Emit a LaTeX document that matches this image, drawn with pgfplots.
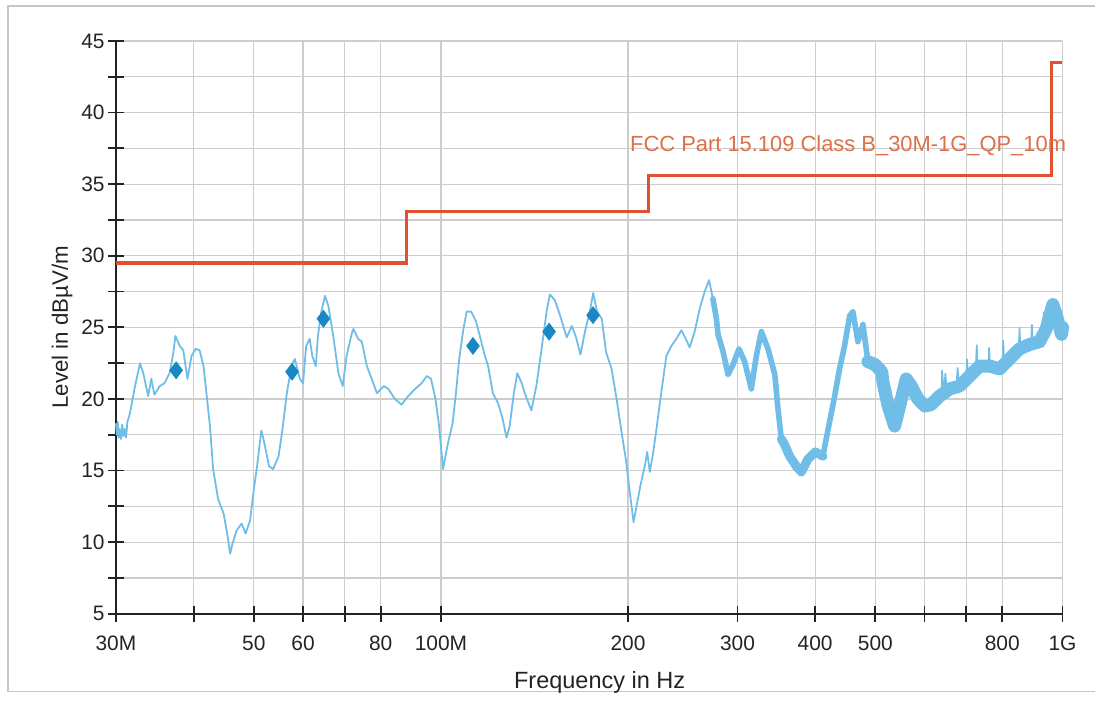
\documentclass[border=0pt]{standalone}
\usepackage{fontspec}
\setmainfont{Liberation Sans}
\usepackage{pgfplots}
\pgfplotsset{compat=1.18}
\definecolor{trace}{RGB}{112,190,232}
\definecolor{markc}{RGB}{25,135,195}
\definecolor{limit}{RGB}{222,82,50}
\definecolor{limtext}{RGB}{222,112,72}
\definecolor{gridc}{RGB}{205,205,205}
\definecolor{axc}{RGB}{35,35,35}
\begin{document}
\begin{tikzpicture}
\begin{axis}[
  scale only axis, width=473.5bp, height=286.5bp,
  xmode=log, log basis x=10,
  xmin=30, xmax=1000, ymin=5, ymax=45,
  clip=false,
  axis x line=bottom, axis y line=left,
  axis line style={-, line width=1bp, color=axc},
  xtick={30,40,50,60,70,80,100,200,300,400,500,600,700,800,1000},
  xticklabels={30M,,50,60,,80,100M,200,300,400,500,,,800,1G},
  minor xtick={},
  ytick={5,10,15,20,25,30,35,40,45},
  yticklabels={5,10,15,20,25,30,35,40,45},
  minor ytick={7.5,12.5,17.5,22.5,27.5,32.5,37.5,42.5},
  grid=both,
  major grid style={gridc, line width=0.6bp},
  minor grid style={gridc, line width=0.6bp},
  tick align=center, major tick length=8bp, minor tick length=8bp,
  tick style={axc, line width=0.9bp},
  ticklabel style={font=\fontsize{10.5}{12}\selectfont, text=axc},
  xticklabel style={yshift=-3.5bp},
  yticklabel style={xshift=1.8bp},
  xlabel={Frequency in Hz},
  xlabel style={at={(rel axis cs:0.511,-0.120)}, anchor=center, font=\fontsize{11.8}{13}\selectfont, text=axc},
  ylabel={Level in dBµV/m},
  ylabel style={at={(rel axis cs:-0.057,0.5)}, anchor=center, font=\fontsize{11.2}{13}\selectfont, text=axc},
]
% page frame and bounding box
\path (rel axis cs:-0.1225,-0.1414) rectangle (rel axis cs:1.0348,1.0716);
\draw[gray!45, line width=0.6bp] (rel axis cs:1.0348,1.0611) -- (rel axis cs:-0.1140,1.0611) -- (rel axis cs:-0.1140,-0.1361) -- (rel axis cs:1.0348,-0.1361);

% limit line
\addplot[limit, line width=1.6bp, line join=miter] coordinates {
(30,29.5) (88,29.5) (88,33.1) (216,33.1) (216,35.6) (960,35.6) (960,43.5) (1000,43.5)};

% measured trace, 30-280 MHz (thin)
\addplot[trace, line width=0.9bp, line join=round] coordinates {
(30.0,18.3) (30.1,17.5) (30.2,18.4) (30.3,17.3) (30.4,17.9) (30.55,17.2) (30.7,18.2) (30.85,17.4) (31.0,17.9) (31.15,17.3) (31.3,18.4) (31.6,19.0)
(32.2,20.9) (32.8,22.5) (33.2,21.8) (33.8,20.2) (34.2,21.4) (34.6,20.3) (35.3,20.9)
(35.9,21.1) (36.6,21.8) (37.1,23.2) (37.4,24.4) (38.0,23.7) (38.5,23.4) (39.1,21.4)
(39.7,23.0) (40.3,23.5) (40.9,23.4) (41.5,22.3) (42.0,20.2) (42.5,18.1) (43.0,15.1)
(43.8,13.0) (44.7,12.0) (45.3,10.6) (45.8,9.2) (46.2,9.9) (46.9,10.8) (47.8,11.3)
(48.5,10.6) (49.3,11.5) (50.0,13.7) (50.6,15.3) (51.4,17.8) (52.0,16.9) (52.9,15.3)
(53.7,15.1) (54.8,16.0) (55.6,17.9) (56.5,20.4) (57.5,22.3) (58.2,22.8) (59.3,21.4)
(60.0,21.1) (60.7,23.7) (61.5,24.2) (62.1,23.0) (62.9,22.3) (63.4,24.4) (64.2,26.1)
(65.1,27.2) (65.9,26.5) (67.1,24.4) (68.4,21.8) (69.5,20.9) (70.5,23.0) (71.9,24.6)
(72.3,24.9) (73.6,24.2) (74.6,24.0) (76.0,22.3) (77.4,21.4) (78.9,20.4) (80.9,20.9)
(82.3,20.7) (84.3,20.0) (86.4,19.6) (88.6,20.2) (90.9,20.7) (93.1,21.1) (94.9,21.6)
(96.4,21.4) (98.0,20.0) (99.2,18.3) (100.8,15.1) (102.4,16.7) (104.4,18.3) (105.6,20.2)
(107.0,22.8) (108.7,24.9) (110.0,26.1) (111.9,26.1) (113.9,25.4) (115.5,24.4) (117.7,23.0)
(119.1,22.3) (121.2,20.4) (123.6,19.7) (125.7,18.6) (127.5,17.3) (129.0,18.1) (131.0,20.4)
(132.7,21.8) (134.9,21.1) (136.4,20.4) (139.8,19.2) (142.4,20.9) (145.1,23.4) (147.9,26.1)
(149.7,27.3) (152.5,26.9) (155.3,25.9) (159.4,24.3) (162.4,25.1) (165.0,24.3) (167.7,23.1)
(170.5,24.7) (173.6,26.1) (175.8,27.4) (178.3,26.1) (181.5,25.6) (184.3,23.3) (188.2,22.1)
(191.7,20.0) (195.4,17.6) (198.4,15.8) (201.3,13.5) (204.1,11.4) (206.6,12.6) (209.5,14.0)
(213.0,15.4) (214.7,16.3) (216.8,14.9) (219.6,16.3) (222.2,17.9) (226.3,20.5) (230.5,23.0)
(234.8,23.7) (239.2,24.2) (243.7,24.8) (247.6,24.2) (251.3,23.6) (256.0,24.7) (260.8,26.3)
(265.7,27.5) (270.0,28.3) (273.9,27.0) (277.5,25.6) (279.2,24.5)};

% 280-510 MHz (noisier)
\addplot[trace, line width=2.8bp, line join=round, line cap=round] coordinates {
(273.9,27.0) (277.5,25.6) (279.2,24.5) (284.4,23.3) (289.7,21.7) (295.1,22.4) (301.7,23.5) (308.1,22.6) (315.8,20.7)
(321.7,23.0) (327.8,24.7) (335.9,23.5) (344.5,21.7) (348.6,19.3) (353.0,17.2) (357.3,16.8)
(364.0,16.0) (373.1,15.3) (380.1,14.9) (389.6,15.8) (400.4,16.3) (411.6,16.0) (422.0,18.4)
(430.0,20.2) (437.9,22.1) (446.1,23.7) (454.5,25.8) (460.1,26.1) (468.7,24.0) (477.5,25.2)
(486.5,22.6) (499.3,22.4) (511.9,21.9)};
\addplot[trace, line width=4.5bp, line join=round, line cap=round] coordinates {
(353.0,17.2) (357.3,16.8) (364.0,16.0) (373.1,15.3) (380.1,14.9) (389.6,15.8) (400.4,16.3) (411.6,16.0)};

% 510 MHz - 1 GHz (noisiest)
\addplot[trace, line width=6.5bp, line join=round, line cap=round] coordinates {
(486.5,22.6) (499.3,22.4) (511.9,21.9) (514.6,21.1) (524.4,19.5) (537.0,18.1) (547.0,19.5) (560.6,21.4) (571.1,20.9)
(585.4,20.0) (600.6,19.5) (614.3,19.6) (634.3,20.2) (658.3,20.7) (683.1,20.9) (708.9,21.6)
(735.6,22.3) (763.4,22.3) (792.2,22.1) (822.1,22.8) (853.1,23.5) (885.2,23.8) (918.6,24.0)
(941.6,24.9) (965.0,26.6) (977.0,25.9) (996.6,24.5) (1000,25.0)};
% upward spikes on the noise band
\addplot[trace, line width=0.8bp] coordinates {
(640,20.3) (640,22.0) (645,20.4) (648,21.8) (652,20.5) (675,20.8) (678,22.2) (682,20.9)
(700,21.4) (702,22.8) (706,21.5) (725,22.0) (728,23.8) (731,22.1) (760,22.3) (762,23.6) (765,22.3)
(800,22.3) (803,24.1) (806,22.4) (850,23.4) (853,25.0) (856,23.5) (890,23.8) (893,25.2) (896,23.9)
(930,24.4) (933,26.1) (936,24.6)};

% final measurement points
\addplot[only marks, mark=diamond*, mark size=4.2bp, color=markc] coordinates {
(37.5,22.0) (57.6,21.9) (64.7,25.6) (112.6,23.7) (149.3,24.7) (175.7,25.85)};

\node[anchor=base west, inner sep=0, text=limtext, font=\fontsize{11}{12}\selectfont]
  at (axis cs:201.3,37.27) {FCC Part 15.109 Class B\_30M-1G\_QP\_10m};
\end{axis}
\end{tikzpicture}
\end{document}
